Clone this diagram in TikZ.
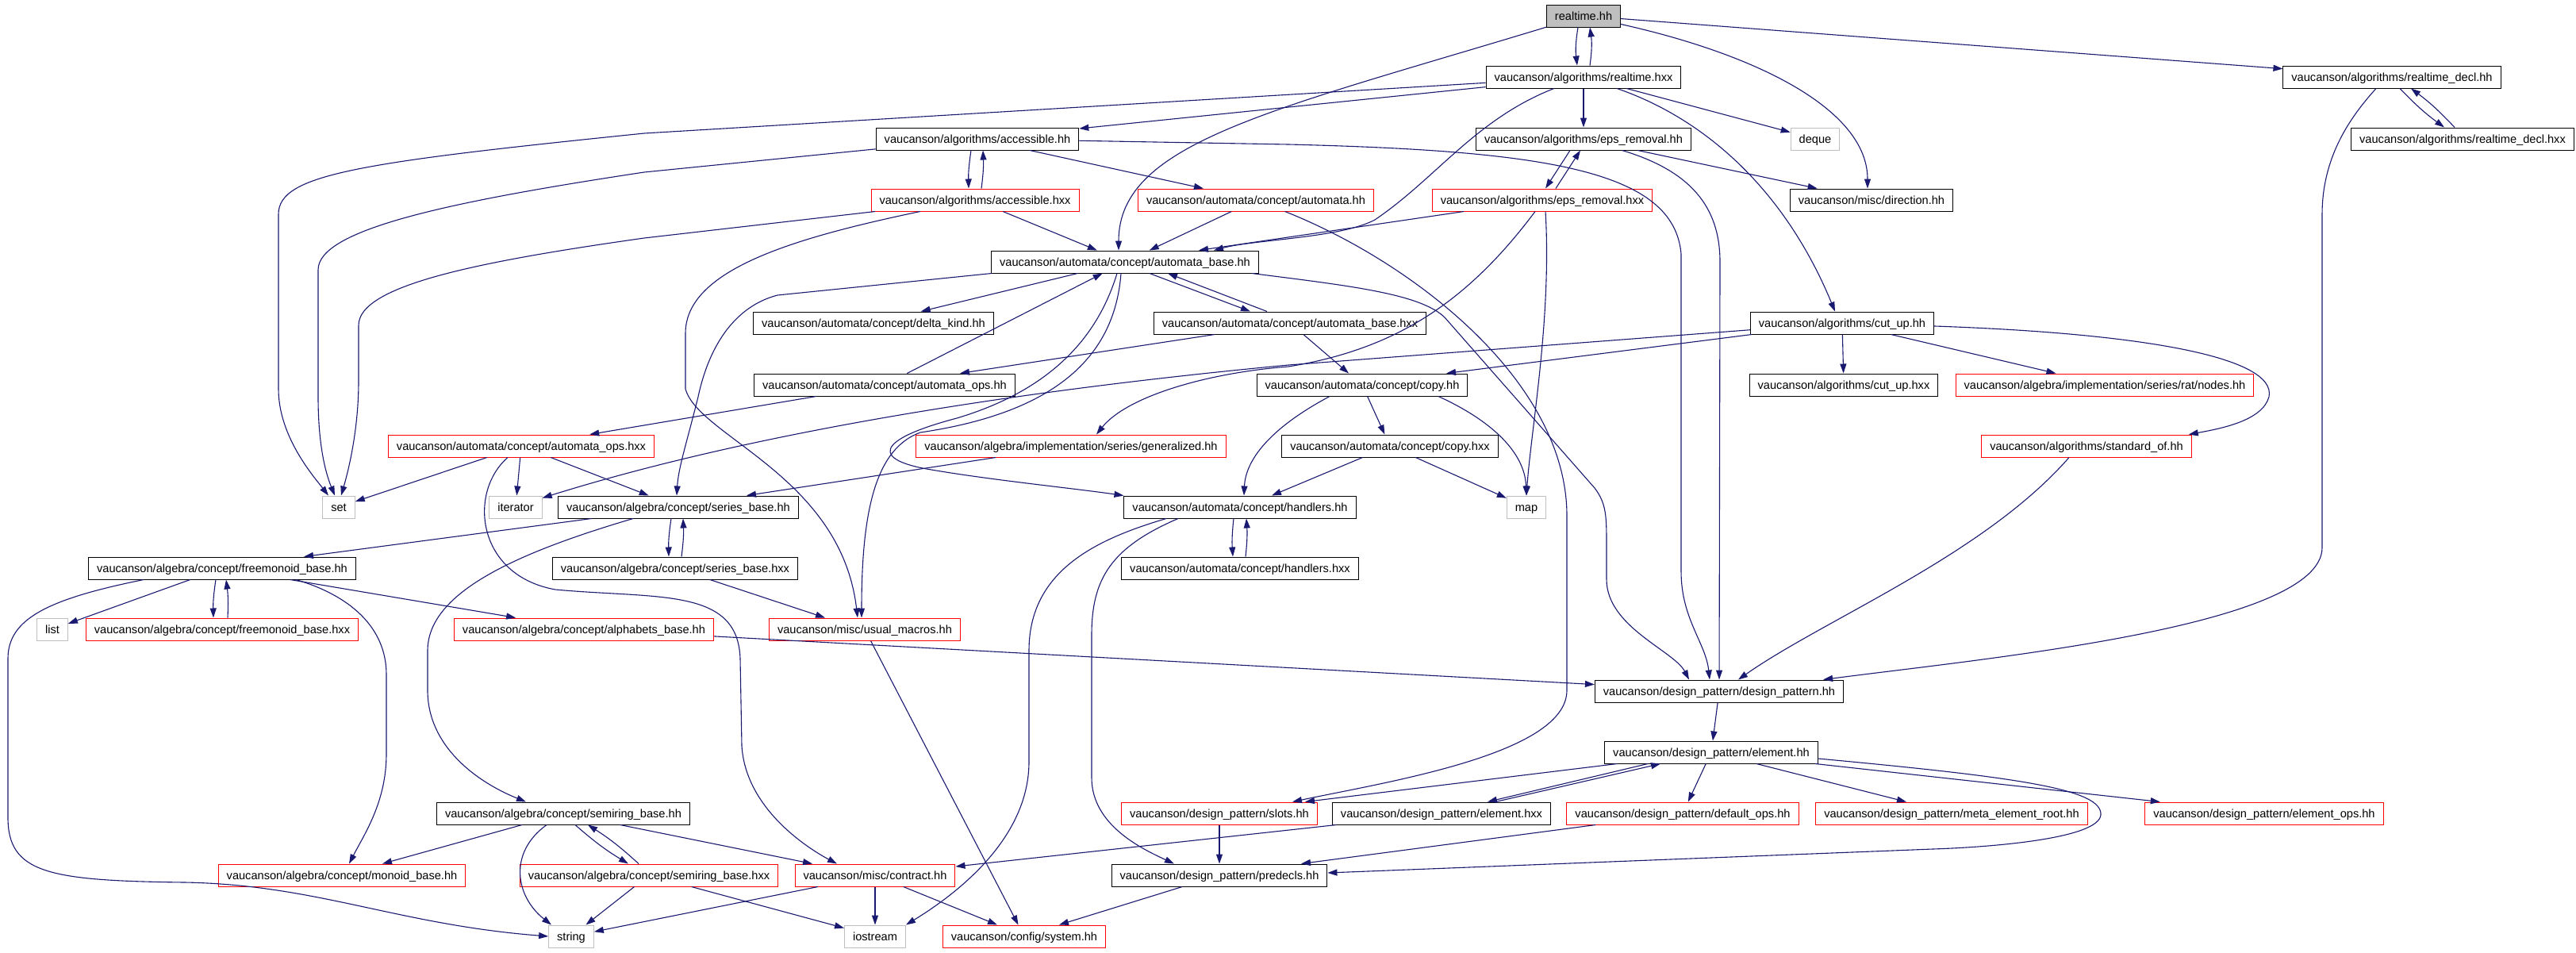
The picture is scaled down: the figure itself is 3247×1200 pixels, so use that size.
\documentclass[tikz,border=0pt]{standalone}
\usepackage{fontspec}
\setmainfont{Liberation Sans}
\usetikzlibrary{arrows.meta}
\definecolor{edgeblue}{HTML}{191970}
\definecolor{sysgray}{HTML}{BFBFBF}

\begin{document}
\begin{tikzpicture}[x = 1pt, y = -1pt,
	file/.style = {draw = black, line width = 1pt, rectangle, minimum height = 28pt, inner xsep = 10.5pt, inner ysep = 0pt, text height = 12.5pt, text depth = 1.5pt, font = \fontsize{14.6}{16}\selectfont},
	redfile/.style = {file, draw = red},
	sysfile/.style = {file, draw = sysgray},
	rootfile/.style = {file, fill = sysgray},
	dep/.style = {draw = edgeblue, line width = 1.1pt, -{Triangle[length = 12pt, width = 8pt]}}]
	 \useasboundingbox (0, 0) rectangle (3247, 1200);

	 \node[rootfile] (rt) at (1996, 20) {realtime.hh};
	 \node[file] (rthxx) at (1996, 97) {vaucanson/algorithms/realtime.hxx};
	 \node[file] (rtdecl) at (3015, 97) {vaucanson/algorithms/realtime\_decl.hh};
	 \node[file] (acc) at (1232, 175) {vaucanson/algorithms/accessible.hh};
	 \node[file] (eps) at (1996, 175) {vaucanson/algorithms/eps\_removal.hh};
	 \node[sysfile] (deque) at (2288, 175) {deque};
	 \node[file] (rtdeclhxx) at (3104, 175) {vaucanson/algorithms/realtime\_decl.hxx};
	 \node[redfile] (acchxx) at (1229, 252) {vaucanson/algorithms/accessible.hxx};
	 \node[redfile] (automata) at (1583, 252) {vaucanson/automata/concept/automata.hh};
	 \node[redfile] (epshxx) at (1944, 252) {vaucanson/algorithms/eps\_removal.hxx};
	 \node[file] (direction) at (2359, 252) {vaucanson/misc/direction.hh};
	 \node[file] (abase) at (1418, 330) {vaucanson/automata/concept/automata\_base.hh};
	 \node[file] (delta) at (1101, 407) {vaucanson/automata/concept/delta\_kind.hh};
	 \node[file] (abasehxx) at (1626, 407) {vaucanson/automata/concept/automata\_base.hxx};
	 \node[file] (cutup) at (2322, 407) {vaucanson/algorithms/cut\_up.hh};
	 \node[file] (aops) at (1115, 485) {vaucanson/automata/concept/automata\_ops.hh};
	 \node[file] (copy) at (1717, 485) {vaucanson/automata/concept/copy.hh};
	 \node[file] (cutuphxx) at (2324, 485) {vaucanson/algorithms/cut\_up.hxx};
	 \node[redfile] (ratnodes) at (2653, 485) {vaucanson/algebra/implementation/series/rat/nodes.hh};
	 \node[redfile] (aopshxx) at (657, 562) {vaucanson/automata/concept/automata\_ops.hxx};
	 \node[redfile] (general) at (1350, 562) {vaucanson/algebra/implementation/series/generalized.hh};
	 \node[file] (copyhxx) at (1752, 562) {vaucanson/automata/concept/copy.hxx};
	 \node[redfile] (stdof) at (2630, 562) {vaucanson/algorithms/standard\_of.hh};
	 \node[sysfile] (set) at (427, 639) {set};
	 \node[sysfile] (iterator) at (650, 639) {iterator};
	 \node[file] (sbase) at (855, 639) {vaucanson/algebra/concept/series\_base.hh};
	 \node[file] (handlers) at (1563, 639) {vaucanson/automata/concept/handlers.hh};
	 \node[sysfile] (map) at (1924, 639) {map};
	 \node[file] (fmbase) at (280, 716) {vaucanson/algebra/concept/freemonoid\_base.hh};
	 \node[file] (sbasehxx) at (851, 716) {vaucanson/algebra/concept/series\_base.hxx};
	 \node[file] (handlershxx) at (1563, 716) {vaucanson/automata/concept/handlers.hxx};
	 \node[sysfile] (list) at (66, 793) {list};
	 \node[redfile] (fmbasehxx) at (280, 793) {vaucanson/algebra/concept/freemonoid\_base.hxx};
	 \node[redfile] (alpha) at (736, 793) {vaucanson/algebra/concept/alphabets\_base.hh};
	 \node[redfile] (macros) at (1090, 793) {vaucanson/misc/usual\_macros.hh};
	 \node[file] (dp) at (2167, 871) {vaucanson/design\_pattern/design\_pattern.hh};
	 \node[file] (elem) at (2157, 948) {vaucanson/design\_pattern/element.hh};
	 \node[file] (srbase) at (710, 1025) {vaucanson/algebra/concept/semiring\_base.hh};
	 \node[redfile] (slots) at (1537, 1025) {vaucanson/design\_pattern/slots.hh};
	 \node[file] (elemhxx) at (1817, 1025) {vaucanson/design\_pattern/element.hxx};
	 \node[redfile] (defops) at (2121, 1025) {vaucanson/design\_pattern/default\_ops.hh};
	 \node[redfile] (metaroot) at (2460, 1025) {vaucanson/design\_pattern/meta\_element\_root.hh};
	 \node[redfile] (elemops) at (2854, 1025) {vaucanson/design\_pattern/element\_ops.hh};
	 \node[redfile] (monoid) at (431, 1103) {vaucanson/algebra/concept/monoid\_base.hh};
	 \node[redfile] (srbasehxx) at (818, 1103) {vaucanson/algebra/concept/semiring\_base.hxx};
	 \node[redfile] (contract) at (1103, 1103) {vaucanson/misc/contract.hh};
	 \node[file] (predecls) at (1537, 1103) {vaucanson/design\_pattern/predecls.hh};
	 \node[sysfile] (string) at (720, 1180) {string};
	 \node[sysfile] (iostream) at (1103, 1180) {iostream};
	 \node[redfile] (system) at (1291, 1180) {vaucanson/config/system.hh};

	 \draw[dep] ([xshift = -7]rt.south) to[bend right = 8] ([xshift = -8]rthxx.north);
	 \draw[dep] ([xshift = 8]rthxx.north) to[bend right = 8] ([xshift = 8]rt.south);
	 \draw[dep] (rt) .. controls (1600, 140) and (1410, 180) .. ([xshift = -8]abase.north);
	 \draw[dep] (rt) .. controls (2220, 70) and (2354, 140) .. ([xshift = -5]direction.north);
	 \draw[dep] (rt) -- (rtdecl);

	 \draw[dep] (rthxx) -- (812, 168) .. controls (450, 205) and (351, 220) .. (351, 270) -- (351, 490) .. controls (351, 550) and (395, 600) .. ([xshift = -13]set.north);
	 \draw[dep] (rthxx) -- (acc);
	 \draw[dep] (rthxx) .. controls (1860, 150) and (1810, 225) .. (1733, 277) .. controls (1690, 300) and (1580, 302) .. ([xshift = 112]abase.north);
	 \draw[dep] (rthxx) -- (eps);
	 \draw[dep] (rthxx) -- (deque);
	 \draw[dep] (rthxx) .. controls (2150, 150) and (2250, 240) .. ([xshift = -9]cutup.north);

	 \draw[dep] ([xshift = 10]rtdecl.south) to[bend right = 5] ([xshift = -23]rtdeclhxx.north);
	 \draw[dep] ([xshift = -10]rtdeclhxx.north) to[bend right = 5] ([xshift = 24]rtdecl.south);
	 \draw[dep] ([xshift = -20]rtdecl.south) .. controls (2960, 150) and (2927, 200) .. (2927, 270) -- (2927, 690) .. controls (2927, 790) and (2500, 830) .. ([xshift = -26]dp.north east);

	 \draw[dep] ([xshift = -8]acc.south) to[bend right = 5] ([xshift = -8]acchxx.north);
	 \draw[dep] ([xshift = 8]acchxx.north) to[bend right = 5] ([xshift = 7]acc.south);
	 \draw[dep] (acc) -- (812, 217) .. controls (560, 255) and (401, 290) .. (401, 340) -- (401, 500) .. controls (401, 560) and (410, 595) .. ([xshift = -5]set.north);
	 \draw[dep] (acc) -- (automata);
	 \draw[dep] (acc) -- (1624, 182) .. controls (1950, 190) and (2110, 215) .. (2119, 320) -- (2119, 720) .. controls (2119, 780) and (2150, 810) .. ([xshift = -12]dp.north);

	 \draw[dep] (acchxx) -- (812, 300) .. controls (600, 330) and (452, 360) .. (452, 410) -- (452, 480) .. controls (452, 540) and (440, 590) .. ([xshift = 3]set.north);
	 \draw[dep] (acchxx) -- (abase);
	 \draw[dep] (acchxx) .. controls (1000, 300) and (864, 340) .. (864, 420) -- (864, 490) .. controls (880, 550) and (1060, 600) .. ([xshift = -9]macros.north);

	 \draw[dep] (automata) -- (abase);
	 \draw[dep] (automata) .. controls (1780, 330) and (1975, 480) .. (1975, 650) -- (1975, 870) .. controls (1975, 950) and (1750, 985) .. ([xshift = 92]slots.north);

	 \draw[dep] ([xshift = -17]eps.south) -- ([xshift = 4]epshxx.north);
	 \draw[dep] ([xshift = 17]epshxx.north) -- ([xshift = -4]eps.south);
	 \draw[dep] (eps) -- (direction);
	 \draw[dep] (eps) .. controls (2130, 215) and (2168, 260) .. (2168, 330) -- (dp);

	 \draw[dep] (epshxx) -- ([xshift = 93]abase.north);
	 \draw[dep] ([xshift = 4]epshxx.south) .. controls (1956, 400) and (1930, 540) .. (map.north);
	 \draw[dep] ([xshift = -9]epshxx.south) .. controls (1850, 380) and (1760, 440) .. (1624, 462) .. controls (1520, 470) and (1420, 500) .. ([xshift = 32]general.north);

	 \draw[dep] (abase) -- (delta);
	 \draw[dep] ([xshift = 31]abase.south) -- ([xshift = -50]abasehxx.north);
	 \draw[dep] ([xshift = -29]abasehxx.north) -- ([xshift = 54]abase.south);
	 \draw[dep] ([xshift = -168]abase.south) -- (980, 372) .. controls (930, 385) and (895, 430) .. (880, 500) .. controls (865, 560) and (855, 590) .. ([xshift = -2]sbase.north);
	 \draw[dep] ([xshift = -10]abase.south) .. controls (1385, 420) and (1330, 490) .. (1206, 527) .. controls (1100, 555) and (1100, 580) .. (1174, 592) .. controls (1250, 605) and (1350, 615) .. (handlers.north west);
	 \draw[dep] ([xshift = -5]abase.south) .. controls (1405, 450) and (1330, 520) .. (1160, 545) .. controls (1105, 565) and (1086, 640) .. ([xshift = -4]macros.north);
	 \draw[dep] ([xshift = 160]abase.south) .. controls (1700, 360) and (1790, 370) .. (1821, 400) -- (2010, 615) .. controls (2025, 635) and (2025, 650) .. (2025, 690) -- (2025, 730) .. controls (2025, 790) and (2110, 820) .. ([xshift = -38]dp.north);

	 \draw[dep] (abasehxx) -- (copy);
	 \draw[dep] (abasehxx) -- (aops);
	 \draw[dep] (aops) -- (abase);
	 \draw[dep] (aops) -- (aopshxx);

	 \draw[dep] (cutup) -- (cutuphxx);
	 \draw[dep] (cutup) -- (ratnodes);
	 \draw[dep] (cutup) .. controls (2700, 420) and (2870, 450) .. (2860, 500) .. controls (2852, 530) and (2800, 540) .. ([xshift = -4]stdof.north east);
	 \draw[dep] (cutup) -- ([xshift = 106]copy.north);
	 \draw[dep] (cutup) -- (1624, 460) .. controls (1200, 500) and (900, 560) .. ([yshift = -3]iterator.north east);

	 \draw[dep] (aopshxx) -- (set);
	 \draw[dep] (aopshxx) -- (iterator);
	 \draw[dep] (aopshxx) -- (sbase);
	 \draw[dep] ([xshift = -17]aopshxx.south) .. controls (590, 620) and (600, 725) .. (700, 743) .. controls (830, 755) and (930, 740) .. (933, 830) -- (935, 940) .. controls (940, 1020) and (1020, 1070) .. ([xshift = -48]contract.north);
	 \draw[dep] (general) -- ([xshift = 86]sbase.north);
	 \draw[dep] ([xshift = -22]stdof.south) .. controls (2500, 700) and (2300, 780) .. ([xshift = 24]dp.north);

	 \draw[dep] (copy) -- (copyhxx);
	 \draw[dep] ([xshift = 96]copy.south) .. controls (1880, 530) and (1922, 570) .. (map.north);
	 \draw[dep] ([xshift = -41]copy.south) .. controls (1600, 540) and (1570, 580) .. ([xshift = 5]handlers.north);
	 \draw[dep] (copyhxx) -- ([xshift = 40]handlers.north);
	 \draw[dep] (copyhxx) -- (map);

	 \draw[dep] ([xshift = -8]handlers.south) to[bend right = 5] ([xshift = -9]handlershxx.north);
	 \draw[dep] ([xshift = 7]handlershxx.north) to[bend right = 5] ([xshift = 8]handlers.south);
	 \draw[dep] ([xshift = -93]handlers.south) .. controls (1380, 680) and (1297, 720) .. (1297, 820) -- (1297, 960) .. controls (1297, 1060) and (1200, 1130) .. (iostream.north east);
	 \draw[dep] ([xshift = -78]handlers.south) .. controls (1400, 690) and (1376, 730) .. (1376, 800) -- (1376, 980) .. controls (1376, 1040) and (1440, 1070) .. ([xshift = -57]predecls.north);

	 \draw[dep] ([xshift = -9]sbase.south) to[bend right = 5] ([xshift = -8]sbasehxx.north);
	 \draw[dep] ([xshift = 8]sbasehxx.north) to[bend right = 5] ([xshift = 6]sbase.south);
	 \draw[dep] (sbase) -- ([xshift = 103]fmbase.north);
	 \draw[dep] ([xshift = -57]sbase.south) .. controls (640, 700) and (539, 750) .. (539, 820) -- (539, 870) .. controls (539, 940) and (600, 985) .. ([xshift = -47]srbase.north);
	 \draw[dep] (sbasehxx) -- ([xshift = -50]macros.north);

	 \draw[dep] ([xshift = -8]fmbase.south) to[bend right = 5] ([xshift = -11]fmbasehxx.north);
	 \draw[dep] ([xshift = 7]fmbasehxx.north) to[bend right = 5] ([xshift = 5]fmbase.south);
	 \draw[dep] (fmbase) -- (list);
	 \draw[dep] (fmbase) -- (alpha);
	 \draw[dep] ([xshift = 93]fmbase.south) .. controls (440, 750) and (487, 790) .. (487, 850) -- (487, 950) .. controls (487, 1010) and (460, 1050) .. ([xshift = 9]monoid.north);
	 \draw[dep] ([xshift = -99]fmbase.south) .. controls (60, 755) and (10, 780) .. (10, 830) -- (10, 1030) .. controls (10, 1100) and (60, 1110) .. (233, 1112) .. controls (400, 1115) and (500, 1165) .. (string.west);

	 \draw[dep] (alpha) -- (dp);
	 \draw[dep] (macros) -- (system);

	 \draw[dep] (dp) -- (elem);
	 \draw[dep] (elem) -- ([xshift = 108]slots.north);
	 \draw[dep] ([xshift = -80]elem.south) -- ([xshift = 58]elemhxx.north);
	 \draw[dep] ([xshift = 68]elemhxx.north) -- ([xshift = -64]elem.south);
	 \draw[dep] (elem) -- (defops);
	 \draw[dep] (elem) -- (metaroot);
	 \draw[dep] (elem) -- (elemops);
	 \draw[dep] ([yshift = -8]elem.east) .. controls (2550, 980) and (2650, 995) .. (2648, 1027) .. controls (2645, 1058) and (2500, 1068) .. (2436, 1070) -- ([yshift = 3]predecls.east);

	 \draw[dep] (elemhxx) -- (contract);
	 \draw[dep] (defops) -- ([xshift = 103]predecls.north);
	 \draw[dep] (slots) -- (predecls);
	 \draw[dep] (predecls) -- ([xshift = 44]system.north);

	 \draw[dep] (contract) -- (iostream);
	 \draw[dep] (contract) -- ([xshift = -34]system.north);
	 \draw[dep] (contract) -- (string);

	 \draw[dep] (srbase) -- ([xshift = 51]monoid.north);
	 \draw[dep] ([xshift = -21]srbase.south) .. controls (640, 1075) and (650, 1130) .. ([xshift = -25]string.north);
	 \draw[dep] ([xshift = 15]srbase.south) to[bend right = 5] ([xshift = -26]srbasehxx.north);
	 \draw[dep] ([xshift = -13]srbasehxx.north) to[bend right = 5] ([xshift = 31]srbase.south);
	 \draw[dep] (srbase) -- ([xshift = -79]contract.north);
	 \draw[dep] (srbasehxx) -- (iostream);
	 \draw[dep] (srbasehxx) -- (string);
\end{tikzpicture}
\end{document}
